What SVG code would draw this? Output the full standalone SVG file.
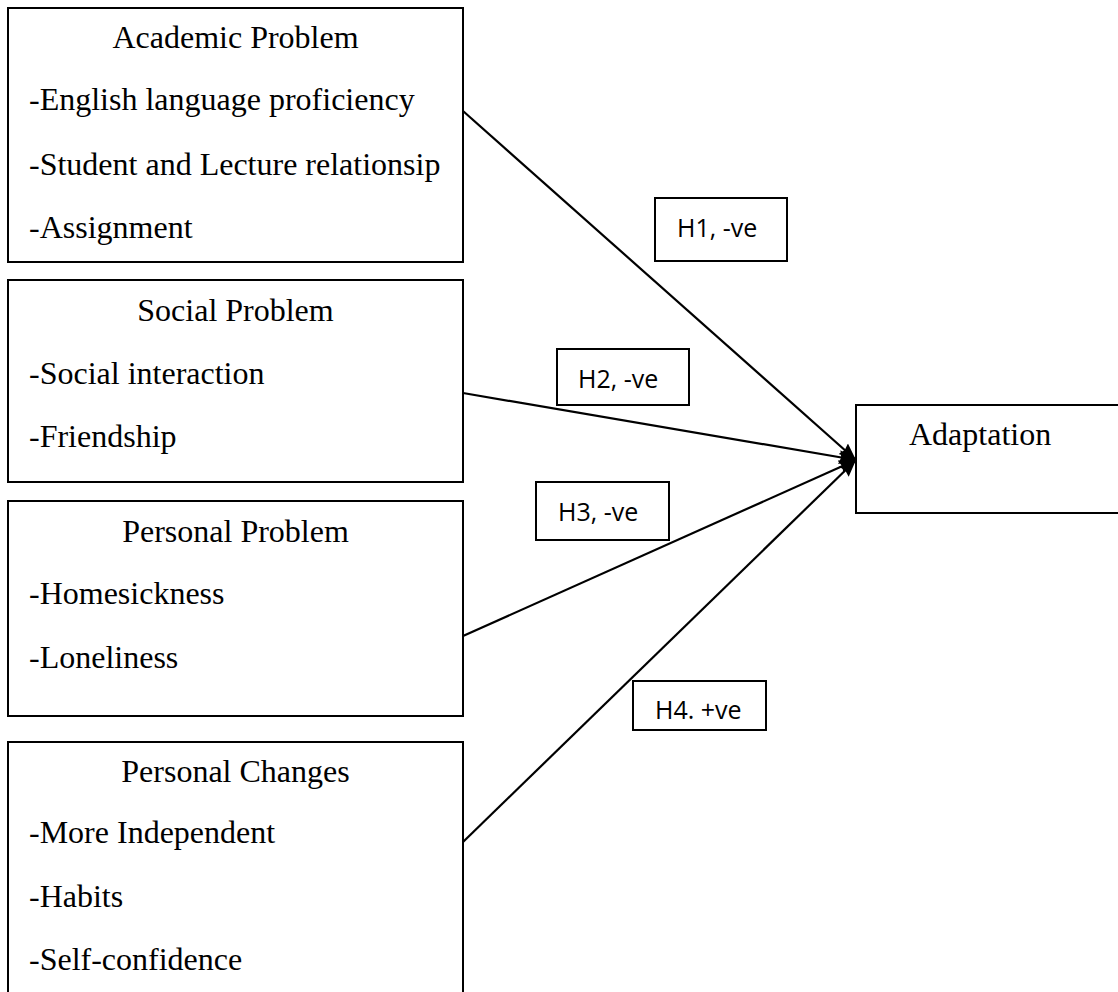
<svg xmlns="http://www.w3.org/2000/svg" width="1118" height="992" viewBox="0 0 1118 992">
<style>
.box{fill:#fff;stroke:#000;stroke-width:2}
.t{font-family:"Liberation Serif","Times New Roman",serif;font-size:32px;fill:#000}
.h{font-family:"Open Sans","Liberation Sans",sans-serif;font-size:25px;fill:#000}
.c{stroke:#000;stroke-width:2.2;fill:none}
</style>
<defs>
<marker id="arr" markerUnits="userSpaceOnUse" markerWidth="20" markerHeight="16" refX="17" refY="8" orient="auto" viewBox="0 0 20 16">
<path d="M0,1 L17,8 L0,15 L2,8 Z" fill="#000"/>
</marker>
</defs>
<rect width="1118" height="992" fill="#fff"/>
<g id="connectors">
<line class="c" x1="463" y1="111" x2="856" y2="460" marker-end="url(#arr)"/>
<line class="c" x1="463" y1="393" x2="856" y2="460" marker-end="url(#arr)"/>
<line class="c" x1="463" y1="636" x2="856" y2="460" marker-end="url(#arr)"/>
<line class="c" x1="463" y1="842" x2="856" y2="460" marker-end="url(#arr)"/>
</g>
<g id="academic">
<rect class="box" x="8" y="8" width="455" height="254"/>
<text class="t" x="235.5" y="48" text-anchor="middle">Academic Problem</text>
<text class="t" x="29" y="110">-English language proficiency</text>
<text class="t" x="29" y="175">-Student and Lecture relationsip</text>
<text class="t" x="29" y="238">-Assignment</text>
</g>
<g id="social">
<rect class="box" x="8" y="280" width="455" height="202"/>
<text class="t" x="235.5" y="321" text-anchor="middle">Social Problem</text>
<text class="t" x="29" y="384">-Social interaction</text>
<text class="t" x="29" y="447">-Friendship</text>
</g>
<g id="personal-problem">
<rect class="box" x="8" y="501" width="455" height="215"/>
<text class="t" x="235.5" y="542" text-anchor="middle">Personal Problem</text>
<text class="t" x="29" y="604">-Homesickness</text>
<text class="t" x="29" y="668">-Loneliness</text>
</g>
<g id="personal-changes">
<rect class="box" x="8" y="742" width="455" height="270"/>
<text class="t" x="235.5" y="782" text-anchor="middle">Personal Changes</text>
<text class="t" x="29" y="843">-More Independent</text>
<text class="t" x="29" y="907">-Habits</text>
<text class="t" x="29" y="970">-Self-confidence</text>
</g>
<g id="adaptation">
<rect class="box" x="856" y="405" width="300" height="108"/>
<text class="t" x="909" y="445">Adaptation</text>
</g>
<g id="h1">
<rect class="box" x="655" y="198" width="132" height="63"/>
<text class="h" x="677" y="237">H1, -ve</text>
</g>
<g id="h2">
<rect class="box" x="557" y="349" width="132" height="56"/>
<text class="h" x="578" y="388">H2, -ve</text>
</g>
<g id="h3">
<rect class="box" x="536" y="482" width="133" height="58"/>
<text class="h" x="558" y="521">H3, -ve</text>
</g>
<g id="h4">
<rect class="box" x="633" y="681" width="133" height="49"/>
<text class="h" x="655" y="719">H4. +ve</text>
</g>
</svg>
